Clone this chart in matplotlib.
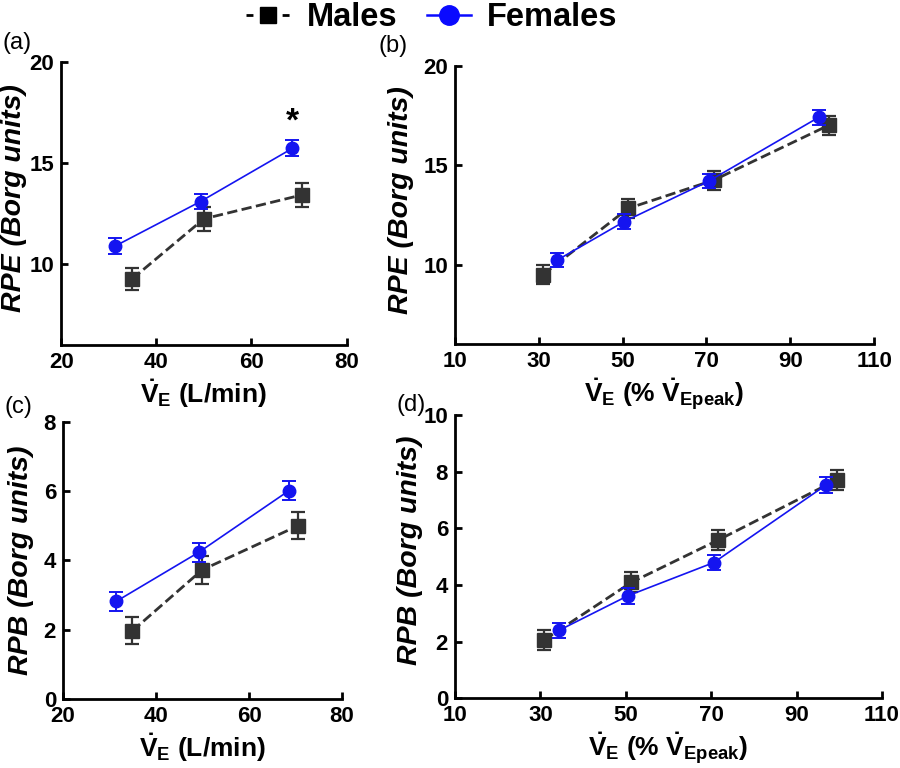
import matplotlib
matplotlib.use('Agg')
import matplotlib.pyplot as plt
from matplotlib.lines import Line2D

plt.rcParams['font.family'] = 'Liberation Sans'
plt.rcParams['font.weight'] = 'bold'
plt.rcParams['mathtext.fontset'] = 'custom'
plt.rcParams['mathtext.rm'] = 'Liberation Sans:bold'
plt.rcParams['mathtext.bf'] = 'Liberation Sans:bold'
plt.rcParams['mathtext.it'] = 'Liberation Sans:bold:italic'

C_MALE = '#333333'
C_FEMALE = '#1414f0'

# Panel (a): RPE vs VE (L/min)
a_male_x = [34.9, 50.0, 70.7]
a_male_y = [9.26, 12.24, 13.43]
a_male_err = [0.55, 0.6, 0.58]
a_fem_x = [31.4, 49.3, 68.6]
a_fem_y = [10.9, 13.1, 15.73]
a_fem_err = [0.38, 0.36, 0.4]

# Panel (b): RPE vs VE (% VEpeak)
b_male_x = [31.0, 51.3, 71.7, 99.2]
b_male_y = [9.5, 12.83, 14.25, 17.02]
b_male_err = [0.5, 0.48, 0.48, 0.48]
b_fem_x = [34.4, 50.3, 70.6, 96.8]
b_fem_y = [10.23, 12.16, 14.21, 17.42]
b_fem_err = [0.37, 0.37, 0.37, 0.37]

# Panel (c): RPB vs VE (L/min)
c_male_x = [34.9, 49.9, 70.6]
c_male_y = [1.96, 3.72, 5.0]
c_male_err = [0.39, 0.4, 0.4]
c_fem_x = [31.4, 49.2, 68.6]
c_fem_y = [2.81, 4.23, 6.01]
c_fem_err = [0.26, 0.27, 0.27]

# Panel (d): RPB vs VE (% VEpeak)
d_male_x = [30.9, 51.3, 71.7, 99.4]
d_male_y = [2.06, 4.09, 5.59, 7.71]
d_male_err = [0.35, 0.35, 0.35, 0.35]
d_fem_x = [34.3, 50.4, 70.6, 96.9]
d_fem_y = [2.39, 3.61, 4.79, 7.53]
d_fem_err = [0.27, 0.27, 0.27, 0.27]

XLAB_L = r'$\dot{\mathbf{V}}_\mathbf{E}$ (L/min)'
XLAB_P = r'$\dot{\mathbf{V}}_\mathbf{E}$ (% $\dot{\mathbf{V}}_\mathbf{Epeak}$)'

fig = plt.figure(figsize=(9, 7.68), dpi=100)
fig.patch.set_facecolor('white')

panels = [
    # rect, label, data, xlim, xticks, ylim, yticks, ylabel, xlabel, ylab_xy, tag_xy
    ([0.068, 0.551, 0.317, 0.368], '(a)',
     (a_male_x, a_male_y, a_male_err, a_fem_x, a_fem_y, a_fem_err),
     (20, 80), [20, 40, 60, 80], (6, 20), [10, 15, 20],
     'RPE (Borg units)', XLAB_L, (-0.165, 0.52), (0.003, 0.944)),
    ([0.5056, 0.552, 0.4656, 0.362], '(b)',
     (b_male_x, b_male_y, b_male_err, b_fem_x, b_fem_y, b_fem_err),
     (10, 110), [10, 30, 50, 70, 90, 110], (6, 20), [10, 15, 20],
     'RPE (Borg units)', XLAB_P, (-0.13, 0.518), (0.421, 0.94)),
    ([0.07, 0.09, 0.31, 0.361], '(c)',
     (c_male_x, c_male_y, c_male_err, c_fem_x, c_fem_y, c_fem_err),
     (20, 80), [20, 40, 60, 80], (0, 8), [0, 2, 4, 6, 8],
     'RPB (Borg units)', XLAB_L, (-0.15, 0.5), (0.005, 0.47)),
    ([0.5056, 0.091, 0.4744, 0.3685], '(d)',
     (d_male_x, d_male_y, d_male_err, d_fem_x, d_fem_y, d_fem_err),
     (10, 110), [10, 30, 50, 70, 90, 110], (0, 10), [0, 2, 4, 6, 8, 10],
     'RPB (Borg units)', XLAB_P, (-0.106, 0.523), (0.44, 0.473)),
]

for rect, tag, data, xlim, xticks, ylim, yticks, ylab, xlab, ylab_xy, tag_xy in panels:
    ax = fig.add_axes(rect)
    mx, my, me, fx, fy, fe = data
    ax.errorbar(mx, my, yerr=me, color=C_MALE, ls='--', lw=2, marker='s',
                ms=10, capsize=5, elinewidth=1.6, capthick=1.6, zorder=3)
    ax.errorbar(fx, fy, yerr=fe, color=C_FEMALE, ls='-', lw=1.2, marker='o',
                ms=9, capsize=5, elinewidth=1.4, capthick=1.4, zorder=4)
    ax.set_xlim(*xlim)
    ax.set_ylim(*ylim)
    ax.set_xticks(xticks)
    ax.set_yticks(yticks)
    for s in ['top', 'right']:
        ax.spines[s].set_visible(False)
    for s in ['left', 'bottom']:
        ax.spines[s].set_linewidth(2)
    ax.tick_params(direction='in', length=5, width=2, labelsize=16, pad=5)
    for lbl in ax.get_xticklabels() + ax.get_yticklabels():
        lbl.set_fontweight('bold')
    ax.set_ylabel(ylab, fontsize=20.5, fontstyle='italic', fontweight='bold', va='center')
    ax.yaxis.set_label_coords(*ylab_xy)
    ax.set_xlabel(xlab, fontsize=19, fontweight='bold', labelpad=3)
    fig.text(tag_xy[0], tag_xy[1], tag, fontsize=17, fontweight='normal',
             ha='left', va='center')
    if tag == '(a)':
        ax.text(a_fem_x[-1], a_fem_y[-1] + 1.3, '*', ha='center', va='center',
                fontsize=24, fontweight='bold')

handles = [
    Line2D([], [], color='black', ls='--', lw=2, marker='s', ms=12, dashes=(2.5, 4)),
    Line2D([], [], color='#0a0aff', ls='-', lw=1.8, marker='o', ms=14),
]
fig.legend(handles, ['Males', 'Females'], loc='upper center',
           bbox_to_anchor=(0.48, 1.035), ncol=2, frameon=False,
           prop={'family': 'Liberation Sans', 'weight': 'bold', 'size': 23.5},
           handlelength=1.35, handletextpad=0.5, columnspacing=0.9)

fig.savefig('out.png', dpi=100, facecolor='white')
